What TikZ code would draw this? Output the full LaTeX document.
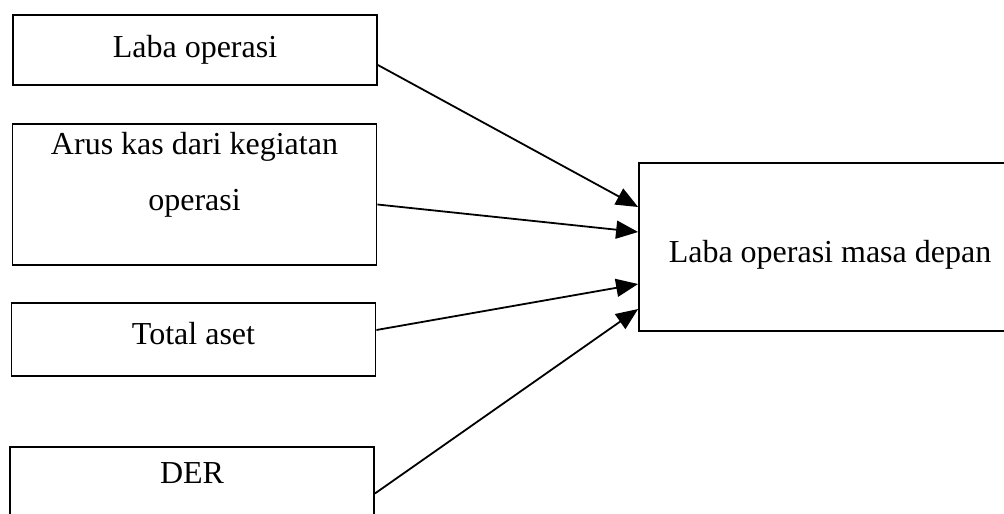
\documentclass[tikz,border=0pt]{standalone}
\usepackage{fontspec}
\setmainfont{Liberation Serif}
\usetikzlibrary{arrows.meta}

\begin{document}
\begin{tikzpicture}[x=0.5pt,y=-0.5pt, font=\fontsize{16}{20}\selectfont,
  kotak/.style={draw, line width=0.9pt, minimum width=182pt, inner sep=0pt},
  panah/.style={-{Triangle[length=11pt,width=9pt]}, line width=0.9pt}]
  \clip (0,0) rectangle (1004,513);
  % variabel independen
  \node[kotak, minimum height=35pt] (laba) at (195,50) {Laba operasi};
  \node[kotak, minimum height=70.5pt, label={[yshift=9.75pt, align=center]center:Arus kas dari kegiatan\\[8pt]operasi}] (arus) at (194.5,194.5) {};
  \node[kotak, minimum height=36.5pt, label={[yshift=3pt]center:Total aset}] (aset) at (193.5,339.5) {};
  \node[kotak, minimum height=46.5pt, label={[yshift=10pt]center:DER}] (der) at (192,493.5) {};
  % variabel dependen
  \node[kotak, minimum width=200pt, minimum height=84pt, label={[xshift=-4.5pt, yshift=-4pt]center:Laba operasi masa depan}] (depan) at (839,247) {};
  % panah
  \draw[panah] ([yshift=-7.5pt]laba.east) -- ([yshift=20pt]depan.west);
  \draw[panah] ([yshift=-5pt]arus.east) -- ([yshift=7.5pt]depan.west);
  \draw[panah] ([yshift=4.75pt]aset.east) -- ([yshift=-18.5pt]depan.west);
  \draw[panah] (der.east) -- ([yshift=-31pt]depan.west);
\end{tikzpicture}
\end{document}
